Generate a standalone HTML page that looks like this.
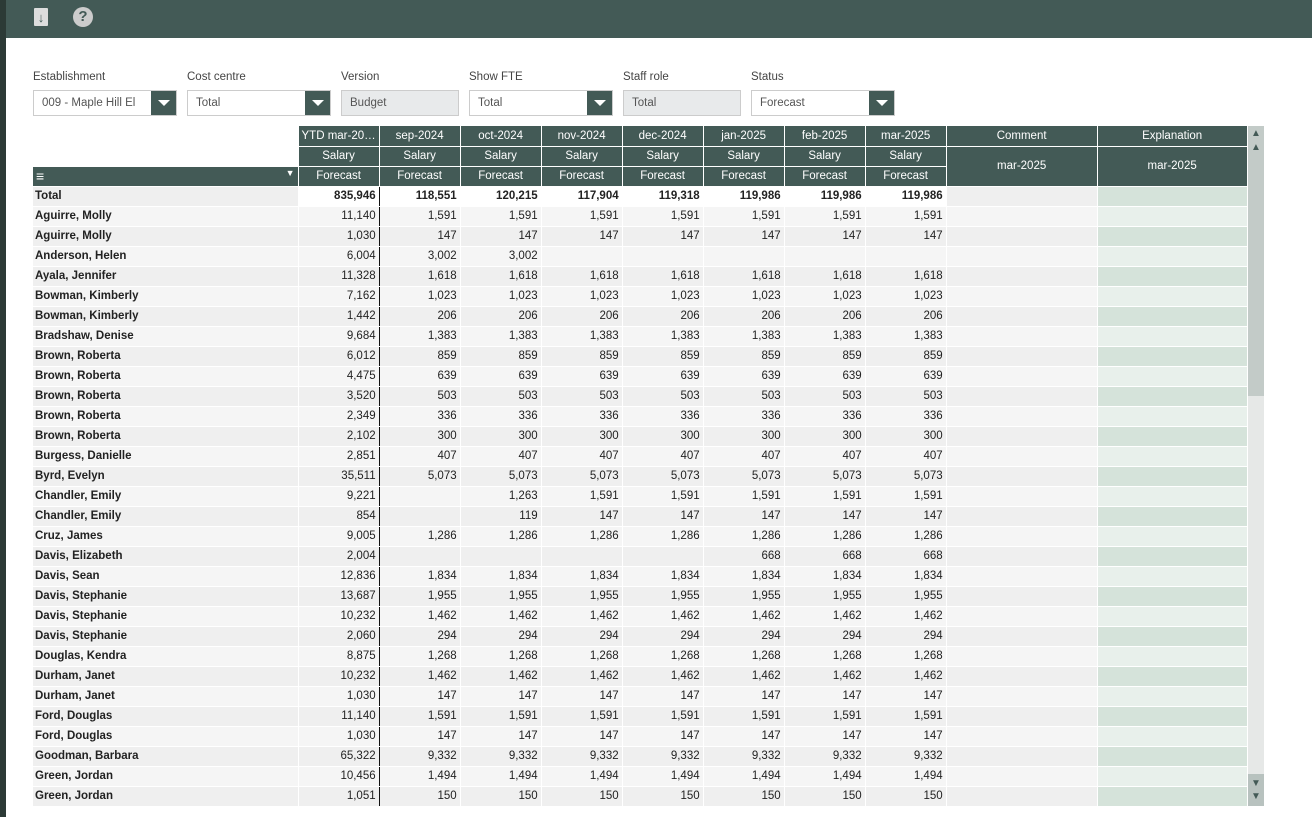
<!DOCTYPE html>
<html><head><meta charset="utf-8"><style>
*{margin:0;padding:0;box-sizing:border-box}
body{width:1312px;height:817px;overflow:hidden;background:#fff;font-family:"Liberation Sans",sans-serif;font-size:11.5px;color:#222;position:relative}
.strip{position:absolute;left:0;top:0;width:6px;height:817px;background:#2c3a36}
.bar{position:absolute;left:6px;top:0;width:1306px;height:38px;background:#435a56}
.lbl{position:absolute;top:71px;font-size:11.5px;color:#444}
.sel{position:absolute;top:90px;height:26px;border:1px solid #ccc;background:#fff;color:#555;padding:6px 8px;font-size:11.5px}
.sel.dis{background:#e8eaeb}
.dd{position:absolute;top:91px;width:25px;height:24px;background:#435a56}
.dd:after{content:"";position:absolute;left:7px;top:9px;border-left:6px solid transparent;border-right:6px solid transparent;border-top:6px solid #fff}
table{position:absolute;left:33px;top:126px;border-collapse:collapse;table-layout:fixed}
td{height:20px;padding:0 3px;white-space:nowrap;overflow:hidden;border-right:1px solid #fff;border-bottom:1px solid #fff}
td.h{background:#435a56;color:#fff;text-align:center}
td.n{font-weight:bold;text-align:left;padding-left:2px}
td.v{text-align:right}
tr:nth-child(even) td.v, tr:nth-child(even) td.n, tr:nth-child(even) td.c{background:#efefef}
tr:nth-child(odd) td.v, tr:nth-child(odd) td.n, tr:nth-child(odd) td.c{background:#f5f5f5}
tr:nth-child(odd) td.e{background:#e8f0eb}
tr:nth-child(even) td.e{background:#d5e3da}
td.y{border-right:1px solid #111}
tr.t td.v{background:#fff;font-weight:bold}
tr.t td.n{background:#efefef}
tr.t td.c{background:#efefef}
.sb{position:absolute;left:1248px;top:126px;width:16px;height:680px;background:#e6e8e7}
</style></head><body>
<div class="strip"></div>
<div class="bar">
<div style="position:absolute;left:28px;top:8px;width:14px;height:18px;background:#ddd;border-radius:1px;color:#435a56;font-size:13px;font-weight:bold;text-align:center;line-height:20px">↓</div>
<div style="position:absolute;left:67px;top:7px;width:20px;height:20px;border-radius:50%;background:#ccc;color:#435a56;font-weight:bold;font-size:15px;text-align:center;line-height:20px">?</div>
</div>
<div class="lbl" style="left:33px">Establishment</div>
<div class="lbl" style="left:187px">Cost centre</div>
<div class="lbl" style="left:341px">Version</div>
<div class="lbl" style="left:469px">Show FTE</div>
<div class="lbl" style="left:623px">Staff role</div>
<div class="lbl" style="left:751px">Status</div>
<div class="sel" style="left:33px;width:144px">009 - Maple Hill El</div><div class="dd" style="left:151px"></div>
<div class="sel" style="left:187px;width:144px">Total</div><div class="dd" style="left:305px"></div>
<div class="sel dis" style="left:341px;width:118px">Budget</div>
<div class="sel" style="left:469px;width:144px">Total</div><div class="dd" style="left:587px"></div>
<div class="sel dis" style="left:623px;width:118px">Total</div>
<div class="sel" style="left:751px;width:144px">Forecast</div><div class="dd" style="left:869px"></div>
<div class="sb"><div style="position:absolute;left:0;top:0;width:16px;height:270px;background:#c3cbc8"></div>
<div style="position:absolute;left:3px;top:3px;color:#435a56;font-size:10px;line-height:10px">▲</div>
<div style="position:absolute;left:3px;top:17px;color:#435a56;font-size:10px;line-height:10px">▲</div>
<div style="position:absolute;left:0;top:648px;width:16px;height:32px;background:#b8c2bf"></div>
<div style="position:absolute;left:3px;top:652px;color:#435a56;font-size:10px">▼</div>
<div style="position:absolute;left:3px;top:665px;color:#435a56;font-size:10px">▼</div></div>
<table>
<colgroup><col style="width:265px"><col style="width:81px"><col style="width:81px"><col style="width:81px"><col style="width:81px"><col style="width:81px"><col style="width:81px"><col style="width:81px"><col style="width:81px"><col style="width:151px"><col style="width:150px"></colgroup>
<tr><td style="background:#fff"></td><td class="h">YTD mar-20…</td><td class="h">sep-2024</td><td class="h">oct-2024</td><td class="h">nov-2024</td><td class="h">dec-2024</td><td class="h">jan-2025</td><td class="h">feb-2025</td><td class="h">mar-2025</td><td class="h">Comment</td><td class="h">Explanation</td></tr>
<tr><td style="background:#fff"></td><td class="h">Salary</td><td class="h">Salary</td><td class="h">Salary</td><td class="h">Salary</td><td class="h">Salary</td><td class="h">Salary</td><td class="h">Salary</td><td class="h">Salary</td><td class="h" rowspan="2">mar-2025</td><td class="h" rowspan="2">mar-2025</td></tr>
<tr><td class="h" style="text-align:left;font-size:14px">≡<span style="float:right;font-size:9px">▼</span></td><td class="h">Forecast</td><td class="h">Forecast</td><td class="h">Forecast</td><td class="h">Forecast</td><td class="h">Forecast</td><td class="h">Forecast</td><td class="h">Forecast</td><td class="h">Forecast</td></tr>
<tr class="t"><td class="n">Total</td><td class="v y">835,946</td><td class="v">118,551</td><td class="v">120,215</td><td class="v">117,904</td><td class="v">119,318</td><td class="v">119,986</td><td class="v">119,986</td><td class="v">119,986</td><td class="c"></td><td class="e"></td></tr>
<tr><td class="n">Aguirre, Molly</td><td class="v y">11,140</td><td class="v">1,591</td><td class="v">1,591</td><td class="v">1,591</td><td class="v">1,591</td><td class="v">1,591</td><td class="v">1,591</td><td class="v">1,591</td><td class="c"></td><td class="e"></td></tr>
<tr><td class="n">Aguirre, Molly</td><td class="v y">1,030</td><td class="v">147</td><td class="v">147</td><td class="v">147</td><td class="v">147</td><td class="v">147</td><td class="v">147</td><td class="v">147</td><td class="c"></td><td class="e"></td></tr>
<tr><td class="n">Anderson, Helen</td><td class="v y">6,004</td><td class="v">3,002</td><td class="v">3,002</td><td class="v"></td><td class="v"></td><td class="v"></td><td class="v"></td><td class="v"></td><td class="c"></td><td class="e"></td></tr>
<tr><td class="n">Ayala, Jennifer</td><td class="v y">11,328</td><td class="v">1,618</td><td class="v">1,618</td><td class="v">1,618</td><td class="v">1,618</td><td class="v">1,618</td><td class="v">1,618</td><td class="v">1,618</td><td class="c"></td><td class="e"></td></tr>
<tr><td class="n">Bowman, Kimberly</td><td class="v y">7,162</td><td class="v">1,023</td><td class="v">1,023</td><td class="v">1,023</td><td class="v">1,023</td><td class="v">1,023</td><td class="v">1,023</td><td class="v">1,023</td><td class="c"></td><td class="e"></td></tr>
<tr><td class="n">Bowman, Kimberly</td><td class="v y">1,442</td><td class="v">206</td><td class="v">206</td><td class="v">206</td><td class="v">206</td><td class="v">206</td><td class="v">206</td><td class="v">206</td><td class="c"></td><td class="e"></td></tr>
<tr><td class="n">Bradshaw, Denise</td><td class="v y">9,684</td><td class="v">1,383</td><td class="v">1,383</td><td class="v">1,383</td><td class="v">1,383</td><td class="v">1,383</td><td class="v">1,383</td><td class="v">1,383</td><td class="c"></td><td class="e"></td></tr>
<tr><td class="n">Brown, Roberta</td><td class="v y">6,012</td><td class="v">859</td><td class="v">859</td><td class="v">859</td><td class="v">859</td><td class="v">859</td><td class="v">859</td><td class="v">859</td><td class="c"></td><td class="e"></td></tr>
<tr><td class="n">Brown, Roberta</td><td class="v y">4,475</td><td class="v">639</td><td class="v">639</td><td class="v">639</td><td class="v">639</td><td class="v">639</td><td class="v">639</td><td class="v">639</td><td class="c"></td><td class="e"></td></tr>
<tr><td class="n">Brown, Roberta</td><td class="v y">3,520</td><td class="v">503</td><td class="v">503</td><td class="v">503</td><td class="v">503</td><td class="v">503</td><td class="v">503</td><td class="v">503</td><td class="c"></td><td class="e"></td></tr>
<tr><td class="n">Brown, Roberta</td><td class="v y">2,349</td><td class="v">336</td><td class="v">336</td><td class="v">336</td><td class="v">336</td><td class="v">336</td><td class="v">336</td><td class="v">336</td><td class="c"></td><td class="e"></td></tr>
<tr><td class="n">Brown, Roberta</td><td class="v y">2,102</td><td class="v">300</td><td class="v">300</td><td class="v">300</td><td class="v">300</td><td class="v">300</td><td class="v">300</td><td class="v">300</td><td class="c"></td><td class="e"></td></tr>
<tr><td class="n">Burgess, Danielle</td><td class="v y">2,851</td><td class="v">407</td><td class="v">407</td><td class="v">407</td><td class="v">407</td><td class="v">407</td><td class="v">407</td><td class="v">407</td><td class="c"></td><td class="e"></td></tr>
<tr><td class="n">Byrd, Evelyn</td><td class="v y">35,511</td><td class="v">5,073</td><td class="v">5,073</td><td class="v">5,073</td><td class="v">5,073</td><td class="v">5,073</td><td class="v">5,073</td><td class="v">5,073</td><td class="c"></td><td class="e"></td></tr>
<tr><td class="n">Chandler, Emily</td><td class="v y">9,221</td><td class="v"></td><td class="v">1,263</td><td class="v">1,591</td><td class="v">1,591</td><td class="v">1,591</td><td class="v">1,591</td><td class="v">1,591</td><td class="c"></td><td class="e"></td></tr>
<tr><td class="n">Chandler, Emily</td><td class="v y">854</td><td class="v"></td><td class="v">119</td><td class="v">147</td><td class="v">147</td><td class="v">147</td><td class="v">147</td><td class="v">147</td><td class="c"></td><td class="e"></td></tr>
<tr><td class="n">Cruz, James</td><td class="v y">9,005</td><td class="v">1,286</td><td class="v">1,286</td><td class="v">1,286</td><td class="v">1,286</td><td class="v">1,286</td><td class="v">1,286</td><td class="v">1,286</td><td class="c"></td><td class="e"></td></tr>
<tr><td class="n">Davis, Elizabeth</td><td class="v y">2,004</td><td class="v"></td><td class="v"></td><td class="v"></td><td class="v"></td><td class="v">668</td><td class="v">668</td><td class="v">668</td><td class="c"></td><td class="e"></td></tr>
<tr><td class="n">Davis, Sean</td><td class="v y">12,836</td><td class="v">1,834</td><td class="v">1,834</td><td class="v">1,834</td><td class="v">1,834</td><td class="v">1,834</td><td class="v">1,834</td><td class="v">1,834</td><td class="c"></td><td class="e"></td></tr>
<tr><td class="n">Davis, Stephanie</td><td class="v y">13,687</td><td class="v">1,955</td><td class="v">1,955</td><td class="v">1,955</td><td class="v">1,955</td><td class="v">1,955</td><td class="v">1,955</td><td class="v">1,955</td><td class="c"></td><td class="e"></td></tr>
<tr><td class="n">Davis, Stephanie</td><td class="v y">10,232</td><td class="v">1,462</td><td class="v">1,462</td><td class="v">1,462</td><td class="v">1,462</td><td class="v">1,462</td><td class="v">1,462</td><td class="v">1,462</td><td class="c"></td><td class="e"></td></tr>
<tr><td class="n">Davis, Stephanie</td><td class="v y">2,060</td><td class="v">294</td><td class="v">294</td><td class="v">294</td><td class="v">294</td><td class="v">294</td><td class="v">294</td><td class="v">294</td><td class="c"></td><td class="e"></td></tr>
<tr><td class="n">Douglas, Kendra</td><td class="v y">8,875</td><td class="v">1,268</td><td class="v">1,268</td><td class="v">1,268</td><td class="v">1,268</td><td class="v">1,268</td><td class="v">1,268</td><td class="v">1,268</td><td class="c"></td><td class="e"></td></tr>
<tr><td class="n">Durham, Janet</td><td class="v y">10,232</td><td class="v">1,462</td><td class="v">1,462</td><td class="v">1,462</td><td class="v">1,462</td><td class="v">1,462</td><td class="v">1,462</td><td class="v">1,462</td><td class="c"></td><td class="e"></td></tr>
<tr><td class="n">Durham, Janet</td><td class="v y">1,030</td><td class="v">147</td><td class="v">147</td><td class="v">147</td><td class="v">147</td><td class="v">147</td><td class="v">147</td><td class="v">147</td><td class="c"></td><td class="e"></td></tr>
<tr><td class="n">Ford, Douglas</td><td class="v y">11,140</td><td class="v">1,591</td><td class="v">1,591</td><td class="v">1,591</td><td class="v">1,591</td><td class="v">1,591</td><td class="v">1,591</td><td class="v">1,591</td><td class="c"></td><td class="e"></td></tr>
<tr><td class="n">Ford, Douglas</td><td class="v y">1,030</td><td class="v">147</td><td class="v">147</td><td class="v">147</td><td class="v">147</td><td class="v">147</td><td class="v">147</td><td class="v">147</td><td class="c"></td><td class="e"></td></tr>
<tr><td class="n">Goodman, Barbara</td><td class="v y">65,322</td><td class="v">9,332</td><td class="v">9,332</td><td class="v">9,332</td><td class="v">9,332</td><td class="v">9,332</td><td class="v">9,332</td><td class="v">9,332</td><td class="c"></td><td class="e"></td></tr>
<tr><td class="n">Green, Jordan</td><td class="v y">10,456</td><td class="v">1,494</td><td class="v">1,494</td><td class="v">1,494</td><td class="v">1,494</td><td class="v">1,494</td><td class="v">1,494</td><td class="v">1,494</td><td class="c"></td><td class="e"></td></tr>
<tr><td class="n">Green, Jordan</td><td class="v y">1,051</td><td class="v">150</td><td class="v">150</td><td class="v">150</td><td class="v">150</td><td class="v">150</td><td class="v">150</td><td class="v">150</td><td class="c"></td><td class="e"></td></tr>
</table>
</body></html>
